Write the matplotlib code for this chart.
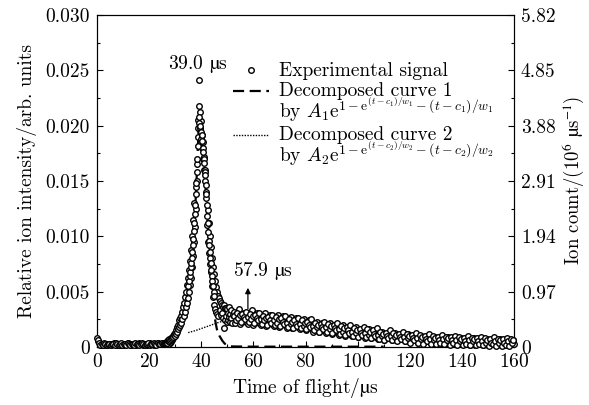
import matplotlib
matplotlib.use('Agg')
import matplotlib.pyplot as plt
import numpy as np
from matplotlib.ticker import MultipleLocator
from matplotlib.legend_handler import HandlerLine2D

plt.rcParams['font.family'] = ['cmr10', 'DejaVu Serif']
plt.rcParams['mathtext.fontset'] = 'cm'
plt.rcParams['axes.formatter.use_mathtext'] = True
plt.rcParams['font.size'] = 14

# experimental signal, values in units of 1e-4 (relative intensity)
t_base = np.linspace(0, 25.5, 52)
y_base = [8, 5, 3, 2, 3, 3, 2, 3, 2, 3, 3, 2, 3, 4, 3, 2, 3, 3, 2, 3,
          3, 2, 3, 3, 4, 3, 2, 3, 3, 3, 2, 3, 4, 3, 3, 2, 3, 3, 2, 3,
          3, 4, 3, 3, 2, 3, 3, 4, 3, 3, 3, 4]
t_base_b = np.linspace(0.25, 25.75, 52)
y_base_b = [6, 4, 2, 3, 2, 4, 3, 2, 3, 3, 2, 3, 3, 2, 4, 3, 2, 3, 4, 2,
            3, 3, 2, 4, 3, 2, 3, 3, 2, 4, 3, 3, 2, 3, 4, 3, 2, 3, 3, 4,
            2, 3, 3, 4, 3, 2, 4, 3, 3, 4, 3, 3]

t_peak = np.linspace(26, 52, 131)
y_peak = [3, 4, 3, 4, 5, 4, 5, 6, 5, 7,
          6, 8, 7, 9, 8, 10, 9, 12, 11, 13,
          10, 15, 12, 18, 14, 20, 16, 24, 18, 26,
          20, 28, 22, 32, 25, 36, 28, 40, 32, 45,
          36, 50, 40, 56, 44, 62, 50, 70, 56, 78,
          62, 88, 72, 100, 82, 115, 95, 130, 108, 145,
          125, 165, 150, 190, 205, 241, 218, 196, 212, 188,
          204, 180, 192, 170, 185, 160, 172, 150, 160, 140,
          135, 110, 124, 95, 112, 85, 100, 75, 90, 68,
          80, 55, 72, 45, 66, 38, 60, 34, 54, 32,
          50, 30, 46, 28, 44, 33, 42, 29, 40, 31,
          38, 26, 36, 17, 38, 24, 35, 28, 35, 23,
          34, 24, 31, 27, 36, 23, 30, 26, 33, 22, 29]
t_peak_b = np.linspace(35.1, 44.9, 50)
y_peak_b = [55, 60, 64, 68, 72, 76, 80, 86, 92, 98,
            105, 112, 120, 128, 138, 148, 158, 170, 182, 198,
            208, 202, 198, 200, 194, 192, 186, 180, 176, 170,
            166, 158, 155, 146, 138, 128, 118, 112, 104, 96,
            92, 86, 80, 76, 70, 64, 60, 55, 50, 46]

t_tail = np.linspace(52.5, 160, 216)
y_tail = [32, 22, 30, 25, 34, 21, 29, 26, 31, 23,
          30, 21, 28, 24, 33, 20, 27, 25, 31, 22,
          29, 20, 27, 23, 31, 19, 26, 24, 29, 21,
          27, 19, 25, 22, 29, 18, 24, 22, 28, 20,
          26, 17, 24, 20, 27, 17, 23, 20, 26, 18,
          24, 16, 22, 19, 25, 15, 21, 19, 24, 17,
          23, 14, 21, 17, 23, 14, 20, 17, 22, 15,
          21, 13, 19, 16, 22, 12, 18, 16, 20, 14,
          19, 11, 17, 14, 20, 10, 16, 14, 18, 12,
          17, 10, 15, 12, 18, 9, 14, 13, 16, 11,
          16, 8, 14, 11, 16, 8, 13, 11, 15, 9,
          14, 7, 12, 10, 14, 6, 11, 10, 13, 8,
          13, 6, 11, 9, 13, 6, 10, 8, 12, 7,
          12, 5, 10, 8, 12, 5, 9, 7, 11, 6,
          11, 4, 9, 7, 10, 4, 8, 7, 10, 5,
          10, 4, 8, 6, 9, 3, 7, 6, 9, 4,
          9, 3, 8, 5, 9, 3, 7, 5, 8, 4,
          9, 3, 7, 5, 8, 3, 6, 5, 8, 3,
          8, 2, 7, 4, 8, 2, 6, 4, 7, 3,
          8, 2, 6, 4, 7, 2, 5, 4, 7, 3,
          7, 2, 6, 3, 7, 2, 5, 3, 6, 2,
          7, 2, 5, 3, 6, 3]
t_tail_b = np.linspace(52.75, 159.75, 215)
y_tail_b = [28, 24, 31, 26, 29, 23, 30, 27, 25, 32,
            27, 23, 30, 25, 28, 22, 29, 26, 24, 31,
            25, 21, 28, 24, 26, 20, 27, 24, 22, 29,
            24, 20, 27, 22, 25, 19, 26, 23, 21, 28,
            22, 18, 25, 21, 23, 17, 24, 21, 19, 26,
            21, 17, 24, 19, 22, 16, 23, 20, 18, 25,
            19, 15, 22, 18, 20, 14, 21, 18, 16, 23,
            18, 14, 21, 16, 19, 13, 20, 17, 15, 22,
            16, 12, 19, 14, 17, 11, 18, 15, 13, 20,
            14, 10, 17, 13, 15, 9, 16, 13, 11, 18,
            13, 9, 16, 11, 14, 8, 15, 12, 10, 17,
            11, 7, 14, 10, 12, 6, 13, 10, 8, 15,
            10, 6, 13, 9, 11, 5, 12, 9, 7, 14,
            9, 5, 12, 8, 10, 4, 11, 8, 6, 13,
            8, 4, 11, 7, 9, 3, 10, 7, 5, 12,
            7, 3, 10, 6, 8, 3, 9, 6, 4, 11,
            7, 3, 9, 6, 8, 2, 9, 6, 4, 10,
            6, 2, 9, 5, 7, 2, 8, 5, 3, 10,
            6, 2, 8, 5, 7, 2, 8, 5, 3, 9,
            5, 2, 8, 4, 6, 1, 7, 4, 3, 9,
            5, 1, 7, 4, 6, 1, 7, 4, 2, 8,
            5, 1, 7, 4, 6]

# decomposed curves (1e-4 units)
t_c1 = [28, 29, 30, 31, 32, 33, 34, 35, 36, 37, 37.5, 38, 38.5, 39, 39.5,
        40, 40.5, 41, 41.5, 42, 42.5, 43, 43.5, 44, 44.5, 45, 45.5, 46, 47,
        48, 49, 50, 51, 52, 60, 110]
y_c1 = [0, 2, 6, 12, 20, 30, 40, 55, 75, 102, 118, 140, 168, 198, 198,
        192, 180, 164, 152, 130, 110, 94, 80, 66, 52, 30, 22, 16, 10,
        6, 3, 2, 1, 0.5, 0.3, 0.3]
t_c2 = [35, 38, 41, 44, 47, 50, 54, 57.9, 62, 70, 80, 90, 100, 110, 120,
        130, 140, 150, 160]
y_c2 = [13, 15, 17.5, 20, 22.5, 24, 25.5, 26, 25.5, 23.5, 20, 16.5, 13,
        10, 8, 6.3, 5, 4, 3.3]

t_exp = np.concatenate([t_base, t_base_b, t_peak, t_peak_b, t_tail, t_tail_b])
y_exp = np.concatenate([y_base, y_base_b, y_peak, y_peak_b, y_tail,
                        y_tail_b]) * 1e-4

left_ticks = [0, 0.005, 0.010, 0.015, 0.020, 0.025, 0.030]
left_labels = ['0', '0.005', '0.010', '0.015', '0.020', '0.025', '0.030']
right_ticks = [0, 0.97, 1.94, 2.91, 3.88, 4.85, 5.82]
right_labels = ['0', '0.97', '1.94', '2.91', '3.88', '4.85', '5.82']

# cmr10 has no usable micro sign, take it from the STIX math fonts
MU = r'$\mathrm{µ}$'


class RaisedLine(HandlerLine2D):
    def __init__(self, shift=0, **kw):
        super().__init__(**kw)
        self.shift = shift

    def create_artists(self, legend, orig_handle, xdescent, ydescent,
                       width, height, fontsize, trans):
        return super().create_artists(legend, orig_handle, xdescent,
                                      ydescent - self.shift * fontsize,
                                      width, height, fontsize, trans)


fig = plt.figure(figsize=(5.89, 4.05), dpi=100)
ax = fig.add_axes([0.1647, 0.1432, 0.708, 0.8198])

l1, = ax.plot(t_c1, np.array(y_c1) * 1e-4, color='black', lw=1.6,
              linestyle=(0, (5, 2.5)), zorder=2)
l2, = ax.plot(t_c2, np.array(y_c2) * 1e-4, color='black', lw=1.0,
              linestyle=(0, (1, 1)), zorder=2)
l0, = ax.plot(t_exp, y_exp, 'o', ms=4, mfc='white', mec='black', mew=1.0,
              zorder=3, clip_on=False)

ax.set_xlim(0, 160)
ax.set_ylim(0, 0.030)
ax.set_xticks(np.arange(0, 161, 20))
ax.xaxis.set_minor_locator(MultipleLocator(10))
ax.set_yticks(left_ticks)
ax.set_yticklabels(left_labels)
ax.yaxis.set_minor_locator(MultipleLocator(0.0025))
ax.tick_params(which='both', direction='in', top=False, right=False)
ax.tick_params(which='major', length=4, width=0.8)
ax.tick_params(which='minor', length=2.5, width=0.8)
ax.tick_params(axis='y', pad=5)
ax.tick_params(axis='x', pad=4)
ax.set_xlabel('Time of flight/' + MU + 's', labelpad=4,
              math_fontfamily='stix')
ax.set_ylabel('Relative ion intensity/arb. units', labelpad=6)

ax2 = ax.twinx()
ax2.set_ylim(0, 5.82)
ax2.set_yticks(right_ticks)
ax2.set_yticklabels(right_labels)
ax2.yaxis.set_minor_locator(MultipleLocator(0.485))
ax2.tick_params(which='both', direction='in', pad=5)
ax2.tick_params(which='major', length=4, width=0.8)
ax2.tick_params(which='minor', length=2.5, width=0.8)
ax2.set_ylabel('Ion count/(10$^6$ ' + MU + 's$^{-1}$)', labelpad=3,
               fontsize=13.5, math_fontfamily='stix')

ax.annotate('39.0 ' + MU + 's', xy=(38.6, 0.0256), ha='center', va='center',
            math_fontfamily='stix')
ax.annotate('57.9 ' + MU + 's', xy=(63.5, 0.0069), ha='center', va='center',
            math_fontfamily='stix')
ax.annotate('', xy=(57.9, 0.0056), xytext=(57.9, 0.0032),
            arrowprops=dict(arrowstyle='-|>', color='black', lw=0.9,
                            mutation_scale=8))

lab1 = 'Decomposed curve 1\nby $A_1\\mathrm{e}^{1-\\mathrm{e}^{(t-c_1)/w_1}-(t-c_1)/w_1}$'
lab2 = 'Decomposed curve 2\nby $A_2\\mathrm{e}^{1-\\mathrm{e}^{(t-c_2)/w_2}-(t-c_2)/w_2}$'
leg = ax.legend([l0, l1, l2], ['Experimental signal', lab1, lab2],
                loc='upper left', bbox_to_anchor=(0.325, 0.857),
                frameon=False, numpoints=1, handlelength=1.9,
                handletextpad=0.5, labelspacing=0.1, borderpad=0,
                borderaxespad=0,
                handler_map={l1: RaisedLine(shift=1.3),
                             l2: RaisedLine(shift=1.3)})
for txt in leg.get_texts():
    txt.set_linespacing(0.8)
ax.set_zorder(ax2.get_zorder() + 1)
ax.patch.set_visible(False)

fig.savefig('out.png', dpi=100)
